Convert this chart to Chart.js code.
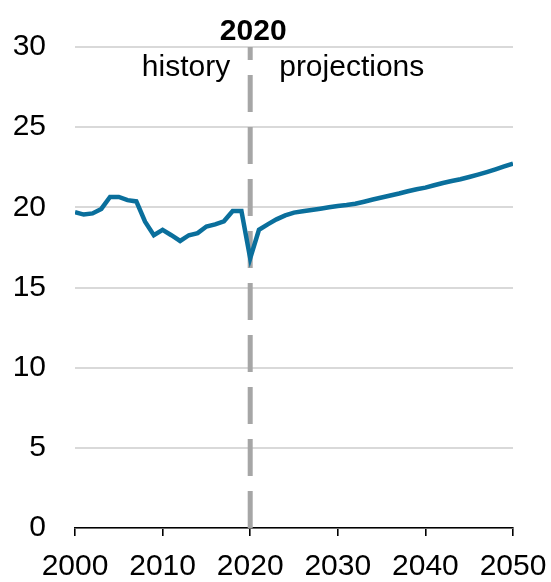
<!DOCTYPE html>
<html>
<head>
<meta charset="utf-8">
<script src="https://cdn.jsdelivr.net/npm/chart.js@4"></script>
<style>
  body { margin: 0; background: #fff; }
</style>
</head>
<body>
<canvas id="chart" width="551" height="582"></canvas>
<script>
const years = [
  2000, 2001, 2002, 2003, 2004, 2005, 2006, 2007, 2008, 2009,
  2010, 2011, 2012, 2013, 2014, 2015, 2016, 2017, 2018, 2019,
  2020, 2021, 2022, 2023, 2024, 2025, 2026, 2027, 2028, 2029,
  2030, 2031, 2032, 2033, 2034, 2035, 2036, 2037, 2038, 2039,
  2040, 2041, 2042, 2043, 2044, 2045, 2046, 2047, 2048, 2049, 2050
];
const values = [
  19.70, 19.55, 19.62, 19.90, 20.65, 20.65, 20.45, 20.37, 19.10, 18.26,
  18.60, 18.26, 17.90, 18.26, 18.39, 18.80, 18.94, 19.13, 19.77, 19.77,
  16.82, 18.60, 18.94, 19.25, 19.50, 19.67, 19.75, 19.83, 19.91, 20.00,
  20.08, 20.14, 20.22, 20.35, 20.49, 20.61, 20.74, 20.86, 21.00, 21.13,
  21.23, 21.38, 21.52, 21.64, 21.75, 21.89, 22.04, 22.20, 22.37, 22.55,
  22.73
];
const xTicks = [2000, 2010, 2020, 2030, 2040, 2050];
const yTicks = [0, 5, 10, 15, 20, 25, 30];
const splitYear = 2020;
const splitLabel = "2020";
const leftLabel = "history";
const rightLabel = "projections";

const font = "'Liberation Sans', Arial, sans-serif";

// dashed divider + labels at the history/projection split
const splitPlugin = {
  id: "split",
  beforeDatasetsDraw(c) {
    const ctx = c.ctx;
    const x = c.scales.x.getPixelForValue(splitYear);
    const a = c.chartArea;
    ctx.save();
    ctx.strokeStyle = "#a6a6a6";
    ctx.lineWidth = 5;
    ctx.setLineDash([37, 15]);
    ctx.beginPath();
    ctx.moveTo(x, a.bottom);
    ctx.lineTo(x, a.top);
    ctx.stroke();
    ctx.restore();
  },
  afterDraw(c) {
    const ctx = c.ctx;
    const x = c.scales.x.getPixelForValue(splitYear);
    const top = c.chartArea.top;
    ctx.save();
    ctx.fillStyle = "#000";
    ctx.textBaseline = "alphabetic";
    ctx.font = "bold 30px " + font;
    ctx.textAlign = "center";
    ctx.fillText(splitLabel, x + 3, top - 7);
    ctx.font = "30px " + font;
    ctx.textAlign = "right";
    ctx.fillText(leftLabel, x - 20, top + 29);
    ctx.textAlign = "left";
    ctx.fillText(rightLabel, x + 29, top + 29);
    ctx.restore();
  }
};

new Chart(document.getElementById("chart"), {
  type: "line",
  data: {
    datasets: [{
      data: years.map((y, i) => ({ x: y, y: values[i] })),
      borderColor: "#0a6f9c",
      borderWidth: 4.5,
      pointRadius: 0,
      tension: 0,
      fill: false
    }]
  },
  options: {
    responsive: false,
    animation: false,
    layout: { padding: { top: 43, right: 0, left: 0, bottom: 0 } },
    plugins: { legend: { display: false }, tooltip: { enabled: false } },
    scales: {
      x: {
        type: "linear",
        min: 2000,
        max: 2050,
        z: 1,
        afterBuildTicks: s => { s.ticks = xTicks.map(v => ({ value: v })); },
        afterFit: s => { s.height = 54; s.paddingLeft = 0; s.paddingRight = 38; },
        grid: { drawOnChartArea: false, drawTicks: true, tickLength: 8, color: "#000", lineWidth: 1.6 },
        border: { display: true, color: "#000", width: 1.6 },
        ticks: {
          color: "#000",
          padding: 13,
          maxRotation: 0,
          font: { family: font, size: 30 },
          callback: v => String(v)
        }
      },
      y: {
        min: 0,
        max: 30,
        afterBuildTicks: s => { s.ticks = yTicks.map(v => ({ value: v })); },
        afterFit: s => { s.width = 75; },
        grid: { color: "#d9d9d9", lineWidth: 2, drawTicks: false },
        border: { display: false },
        ticks: {
          color: "#000",
          padding: 29,
          font: { family: font, size: 30 },
          callback: v => String(v)
        }
      }
    }
  },
  plugins: [splitPlugin]
});
</script>
</body>
</html>
